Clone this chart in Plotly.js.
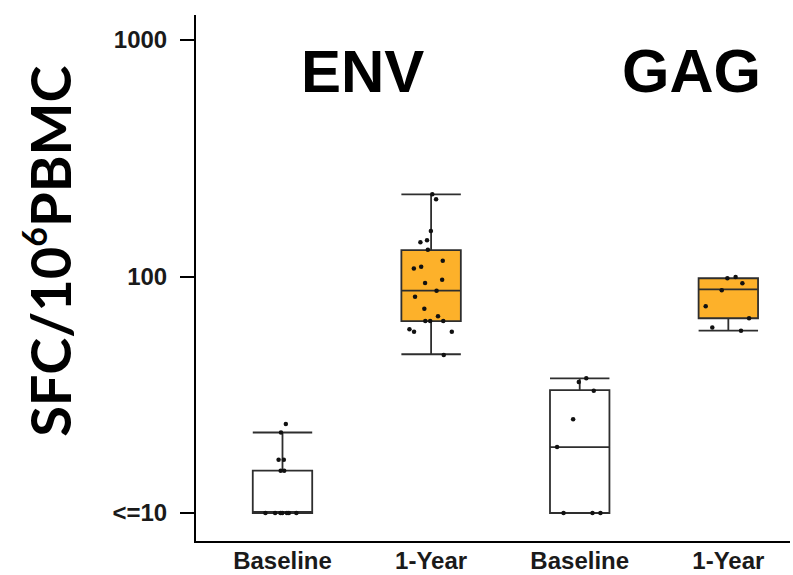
<!DOCTYPE html>
<html>
<head>
<meta charset="utf-8">
<script src="https://cdn.plot.ly/plotly-3.0.1.min.js"></script>
<style>html,body{margin:0;padding:0;background:#fff}#chart{width:793px;height:575px}</style>
</head>
<body>
<div id="chart"></div>
<script>
// Categories / tick labels
const categories = ["Baseline", "1-Year", "Baseline", "1-Year"];
const panelLabels = ["ENV", "GAG"];
const yTickVals = [10, 100, 1000];
const yTickText = ["<=10", "100", "1000"];

// Box statistics (SFC per 10^6 PBMC)
const q1 = [10, 64.8, 10, 66.6];
const median = [10, 87.1, 19.0, 88.3];
const q3 = [15.1, 129.4, 33.1, 98.3];
const lowerFence = [10, 46.9, 10, 59.0];
const upperFence = [21.9, 222.6, 37.1, 98.3];

// Individual responses
const envBaseline = [10, 10, 10, 10, 10, 10, 10, 15.1, 15.1, 16.8, 16.8, 21.9, 23.8];
const envYear = [222.6, 212, 155.8, 142.2, 139.5, 129.7, 116.6, 110, 108, 96.9, 93.9, 87.1, 82.2, 73.1, 67.9, 64.8, 64.8, 64.8, 59.8, 58.4, 58.4, 46.6];
const gagBaseline = [37.1, 35.8, 32.9, 24.9, 19.0, 10, 10, 10];
const gagYear = [99.5, 98.3, 93.6, 87.5, 74.8, 66.6, 60.8, 59.0];

const groups = [envBaseline, envYear, gagBaseline, gagYear];
const positions = categories.map((_, i) => i);

const boxFill = ["#ffffff", "#FDB12A"];

const traces = [];
// Boxes from precomputed statistics
[0, 1].forEach(k => {
  const idx = positions.filter(i => i % 2 === k);
  traces.push({
    type: "box",
    x: idx,
    q1: idx.map(i => q1[i]),
    median: idx.map(i => median[i]),
    q3: idx.map(i => q3[i]),
    lowerfence: idx.map(i => lowerFence[i]),
    upperfence: idx.map(i => upperFence[i]),
    width: 0.4,
    whiskerwidth: 1,
    fillcolor: boxFill[k],
    line: {color: "#2e2e2e", width: 1.8},
    boxpoints: false,
    hoverinfo: "skip",
    showlegend: false
  });
});
// Jittered points
groups.forEach((vals, i) => {
  traces.push({
    type: "box",
    x: vals.map(() => positions[i]),
    y: vals,
    width: 0.4,
    boxpoints: "all",
    jitter: 0.9,
    pointpos: 0,
    fillcolor: "rgba(0,0,0,0)",
    line: {color: "rgba(0,0,0,0)", width: 0},
    marker: {color: "#111111", size: 4.5},
    hoverinfo: "skip",
    showlegend: false
  });
});

const labelFont = "Liberation Sans, Arial, sans-serif";

const layout = {
  width: 793, height: 575,
  margin: {l: 196, r: 3, t: 15, b: 34},
  paper_bgcolor: "#ffffff", plot_bgcolor: "#ffffff",
  boxmode: "overlay",
  showlegend: false,
  font: {family: labelFont, color: "#1a1a1a"},
  xaxis: {
    range: [-0.582, 3.415],
    tickvals: positions,
    ticktext: categories,
    ticks: "",
    ticklabelstandoff: -3,
    showgrid: false, zeroline: false,
    showline: true, linecolor: "#000", linewidth: 2,
    tickfont: {size: 24, family: labelFont, color: "#1a1a1a", weight: "bold"}
  },
  yaxis: {
    type: "log",
    range: [0.8816, 3.1057],
    tickvals: yTickVals,
    ticktext: yTickText,
    ticks: "outside", ticklen: 14, tickwidth: 2, tickcolor: "#000",
    ticklabelstandoff: 8,
    showgrid: false, zeroline: false,
    showline: true, linecolor: "#000", linewidth: 2,
    tickfont: {size: 24, family: labelFont, color: "#1a1a1a", weight: "bold"}
  },
  annotations: [
    {text: panelLabels[0], xref: "x", yref: "paper", x: 0.535, y: 0.8935, xanchor: "center", yanchor: "middle", showarrow: false,
     font: {size: 60, family: labelFont, color: "#000", weight: "bold"}},
    {text: panelLabels[1], xref: "x", yref: "paper", x: 2.75, y: 0.8935, xanchor: "center", yanchor: "middle", showarrow: false,
     font: {size: 61, family: labelFont, color: "#000", weight: "bold"}},
    {text: "SFC/10<sup><span style=\"font-size:34px\">6</span></sup>PBMC", xref: "paper", yref: "paper", x: -0.248, y: 0.551, xanchor: "center", yanchor: "middle",
     textangle: -90, showarrow: false,
     font: {size: 56, family: "Lato, Open Sans, sans-serif", color: "#000", weight: "bold"}}
  ]
};

Plotly.newPlot("chart", traces, layout, {displayModeBar: false, staticPlot: true});
</script>
</body>
</html>
